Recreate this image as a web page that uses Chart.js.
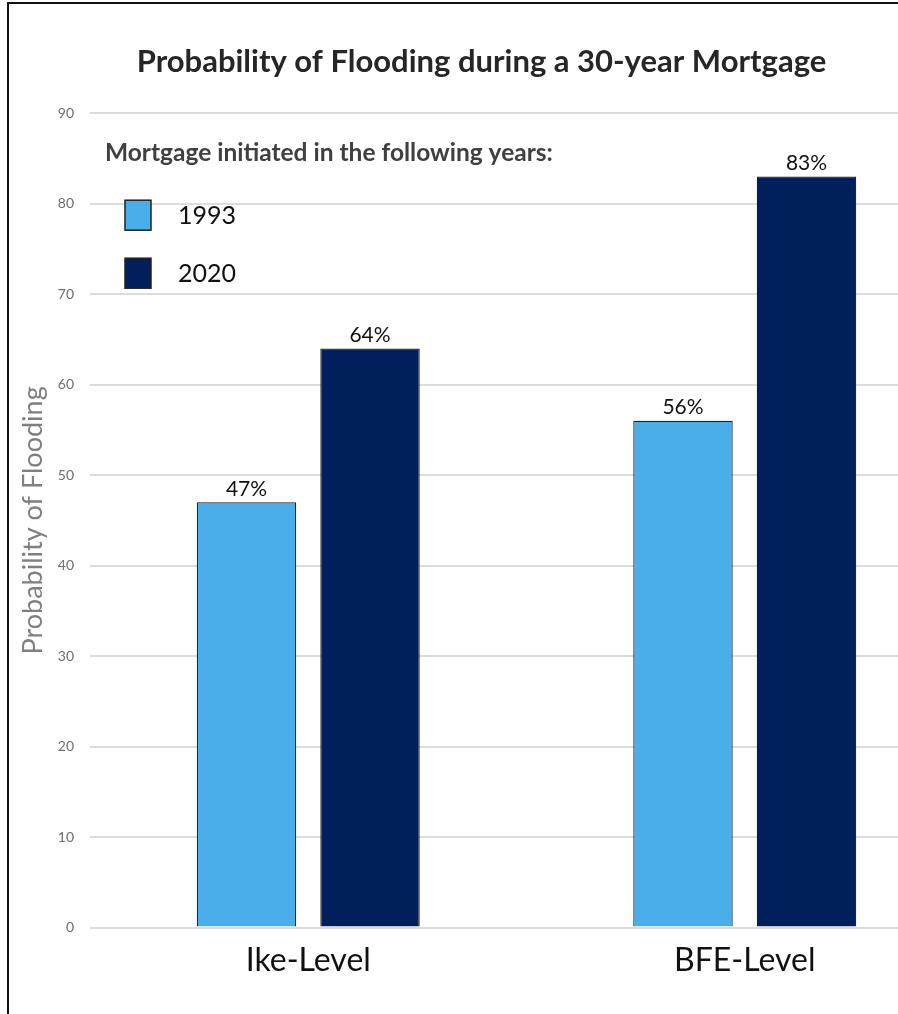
<!DOCTYPE html>
<html>
<head>
<meta charset="utf-8">
<script src="https://cdn.jsdelivr.net/npm/chart.js@4/dist/chart.umd.min.js"></script>
<style>
  html, body { margin: 0; padding: 0; background: #fff; }
  #wrap { position: relative; width: 898px; height: 1014px; overflow: hidden; background: #fff; }
  #frame { position: absolute; left: 7px; top: 2px; right: -10px; bottom: -10px;
           border-left: 2px solid #111; border-top: 2px solid #111; pointer-events: none; }
  #box { position: absolute; left: 0; top: 0; width: 976px; height: 1014px; }
</style>
</head>
<body>
<div id="wrap">
  <div id="box"><canvas id="c"></canvas></div>
  <div id="frame"></div>
</div>
<script>
// Flood probability over a 30-year mortgage, by flood level and start year
const categories = ['Ike-Level', 'BFE-Level'];
const seriesNames = ['1993', '2020'];
const values1993 = [47, 56];
const values2020 = [64, 83];
const yTicks = [0, 10, 20, 30, 40, 50, 60, 70, 80, 90];

const FONT = 'Lato, "Open Sans", sans-serif';
const colors = ['#4aaeea', '#001f5b'];

// Percentage label above each bar
const valueLabels = {
  id: 'valueLabels',
  afterDatasetsDraw(chart) {
    const ctx = chart.ctx;
    ctx.save();
    ctx.font = '21px ' + FONT;
    ctx.fillStyle = '#111';
    ctx.textAlign = 'center';
    ctx.textBaseline = 'bottom';
    chart.data.datasets.forEach((ds, i) => {
      chart.getDatasetMeta(i).data.forEach((bar, j) => {
        ctx.fillText(ds.data[j] + '%', bar.x, bar.y - 3);
      });
    });
    ctx.restore();
  }
};

// Legend block inside the plot, top-left
const boxLegend = {
  id: 'boxLegend',
  afterDraw(chart) {
    const ctx = chart.ctx;
    const a = chart.chartArea;
    ctx.save();
    ctx.textBaseline = 'middle';
    ctx.textAlign = 'left';
    ctx.font = 'bold 24.5px ' + FONT;
    ctx.fillStyle = '#404040';
    ctx.fillText('Mortgage initiated in the following years:', a.left + 15, a.top + 40);
    ctx.font = '25px ' + FONT;
    chart.data.datasets.forEach((ds, i) => {
      const y = a.top + 87 + i * 58;
      ctx.fillStyle = ds.backgroundColor;
      ctx.fillRect(a.left + 35, y, 26, 30);
      ctx.strokeStyle = '#222';
      ctx.lineWidth = 1.5;
      ctx.strokeRect(a.left + 35, y, 26, 30);
      ctx.fillStyle = '#111';
      ctx.fillText(ds.label, a.left + 88, y + 16);
    });
    ctx.restore();
  }
};

new Chart(document.getElementById('c'), {
  type: 'bar',
  data: {
    labels: categories,
    datasets: [
      { label: seriesNames[0], data: values1993, backgroundColor: colors[0],
        borderColor: '#1c1c1c', borderWidth: 1.2 },
      { label: seriesNames[1], data: values2020, backgroundColor: colors[1],
        borderColor: '#1c1c1c', borderWidth: 1.2 }
    ]
  },
  options: {
    responsive: true,
    maintainAspectRatio: false,
    animation: false,
    categoryPercentage: 0.566,
    barPercentage: 0.805,
    layout: { padding: { left: 0, right: 13, top: 0, bottom: 28 } },
    plugins: {
      legend: { display: false },
      tooltip: { enabled: false },
      title: {
        display: true,
        text: 'Probability of Flooding during a 30-year Mortgage',
        color: '#262626',
        font: { family: FONT, size: 31, weight: 'bold' },
        padding: { top: 43, bottom: 33 }
      }
    },
    scales: {
      x: {
        grid: { display: false },
        border: { display: false },
        ticks: { color: '#111', font: { family: FONT, size: 32 }, padding: 6 }
      },
      y: {
        min: 0,
        max: 90,
        afterBuildTicks(scale) { scale.ticks = yTicks.map(v => ({ value: v })); },
        afterFit(scale) { scale.width = 90; },
        grid: { color: '#dcdcdc', lineWidth: 2, drawTicks: false },
        border: { display: false },
        ticks: { color: '#6f6f6f', font: { family: FONT, size: 14 }, padding: 16 },
        title: {
          display: true,
          text: 'Probability of Flooding',
          color: '#7f7f7f',
          font: { family: FONT, size: 27 },
          padding: { top: 17, bottom: 0 }
        }
      }
    }
  },
  plugins: [valueLabels, boxLegend]
});
</script>
</body>
</html>
